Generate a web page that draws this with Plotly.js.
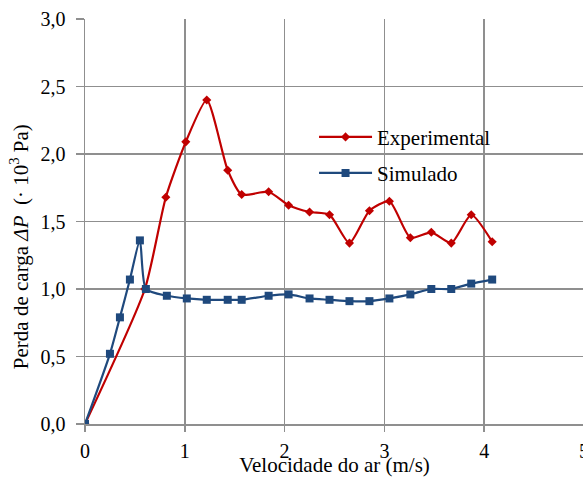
<!DOCTYPE html>
<html>
<head>
<meta charset="utf-8">
<script src="https://cdn.plot.ly/plotly-3.0.1.min.js"></script>
<style>
  html, body { margin: 0; padding: 0; overflow: hidden; background: #fff; }
  #chart { width: 600px; height: 477px; }
</style>
</head>
<body>
<div id="chart"></div>
<script>
// Pressure drop versus air velocity: measured and simulated
const velExp = [0, 0.60, 0.81, 1.01, 1.22, 1.43, 1.57, 1.84, 2.04, 2.25, 2.45, 2.65, 2.85, 3.05, 3.26, 3.47, 3.67, 3.87, 4.08];
const dpExp  = [0, 1.00, 1.68, 2.09, 2.40, 1.88, 1.70, 1.72, 1.62, 1.57, 1.55, 1.34, 1.58, 1.65, 1.38, 1.42, 1.34, 1.55, 1.35];

const velSim = [0, 0.25, 0.35, 0.45, 0.55, 0.61, 0.82, 1.02, 1.22, 1.43, 1.57, 1.84, 2.04, 2.25, 2.45, 2.65, 2.85, 3.05, 3.26, 3.47, 3.67, 3.87, 4.08];
const dpSim  = [0, 0.52, 0.79, 1.07, 1.36, 1.00, 0.95, 0.93, 0.92, 0.92, 0.92, 0.95, 0.96, 0.93, 0.92, 0.91, 0.91, 0.93, 0.96, 1.00, 1.00, 1.04, 1.07];

const xTicks = [0, 1, 2, 3, 4, 5];
const yTicks = [0, 0.5, 1.0, 1.5, 2.0, 2.5, 3.0];

const serif = 'Liberation Serif';
const gridGray = '#8f8f8f';

const traces = [
  {
    name: 'Experimental',
    x: velExp, y: dpExp,
    type: 'scatter', mode: 'lines+markers',
    line: { color: '#c00000', width: 2.2, shape: 'spline', smoothing: 0.6 },
    marker: { symbol: 'diamond', size: 7, color: '#c00000' },
    legend: 'legend'
  },
  {
    name: 'Simulado',
    x: velSim, y: dpSim,
    type: 'scatter', mode: 'lines+markers',
    line: { color: '#1f497d', width: 2.2, shape: 'spline', smoothing: 0.6 },
    marker: { symbol: 'square', size: 8, color: '#1f497d' },
    legend: 'legend2'
  }
];

const legendCommon = {
  bgcolor: 'rgba(0,0,0,0)',
  font: { family: serif, size: 21, color: '#000' },
  xanchor: 'left', yanchor: 'middle',
  itemwidth: 53
};

const layout = {
  width: 600, height: 477,
  margin: { l: 85, r: 16, t: 19, b: 53 },
  paper_bgcolor: '#fff', plot_bgcolor: '#fff',
  separators: ', ',
  font: { family: serif, size: 20, color: '#000' },
  showlegend: true,
  legend: Object.assign({}, legendCommon, { x: 0.459, y: 0.708 }),
  legend2: Object.assign({}, legendCommon, { x: 0.459, y: 0.619 }),
  xaxis: {
    range: [0, 5], tickvals: xTicks, ticktext: xTicks.map(String),
    showgrid: true, gridcolor: gridGray, gridwidth: 1.5,
    showline: true, linecolor: gridGray, linewidth: 1.5,
    zeroline: false,
    ticks: 'outside', ticklen: 6, tickcolor: gridGray, tickwidth: 1.5,
    ticklabelstandoff: 2,
    tickfont: { family: serif, size: 20 },
    title: { text: 'Velocidade do ar (m/s)', font: { family: serif, size: 21 }, standoff: 2 }
  },
  yaxis: {
    range: [0, 3], tickvals: yTicks, tickformat: '.1f',
    showgrid: true, gridcolor: gridGray, gridwidth: 1.5,
    showline: true, linecolor: gridGray, linewidth: 1.5,
    zeroline: false,
    ticks: 'outside', ticklen: 8, tickcolor: gridGray, tickwidth: 1.5,
    ticklabelstandoff: 6,
    tickfont: { family: serif, size: 20 }
  },
  annotations: [
    {
      // vertical axis title
      text: 'Perda de carga <i>ΔP</i>  (· 10<sup>3</sup> Pa)',
      font: { family: serif, size: 21, color: '#000' },
      textangle: -90,
      xref: 'paper', yref: 'paper',
      x: -0.132, y: 0.437,
      xanchor: 'center', yanchor: 'middle',
      showarrow: false
    }
  ]
};

Plotly.newPlot('chart', traces, layout, { displayModeBar: false, staticPlot: true });
</script>
</body>
</html>
